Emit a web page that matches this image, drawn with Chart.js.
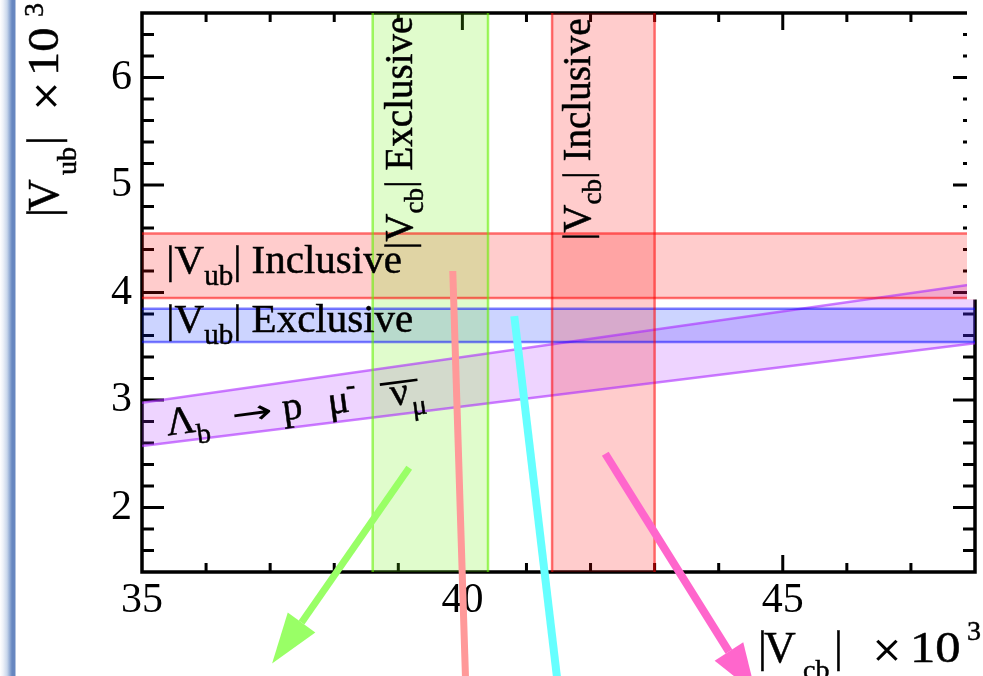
<!DOCTYPE html>
<html><head><meta charset="utf-8">
<script src="https://cdn.jsdelivr.net/npm/chart.js@4.4.1/dist/chart.umd.min.js"></script>
<style>
html,body{margin:0;padding:0;background:#fff;}
#wrap{position:relative;width:983px;height:676px;overflow:hidden;}
#stripe{position:absolute;left:0;top:0;width:16px;height:676px;background:linear-gradient(to right,#ffffff 0px,#eef2f9 3px,#c9d7ec 7px,#8ea8d3 10px,#6787c0 12px,#6787c0 15px,#ffffff 16px);}
canvas{position:absolute;left:0;top:0;}
</style></head>
<body><div id="wrap"><div id="stripe"></div><canvas id="c" width="983" height="676"></canvas></div>
<script>
// ---------- data ----------
const xRange = [35, 48];
const yRange = [1.4, 6.6];
const xTickLabels = ['35', '40', '45'];
const yTickLabels = ['2', '3', '4', '5', '6'];

const vcbExclusive = [38.6, 40.4];   // |Vcb| x10^3 band
const vcbInclusive = [41.4, 43.0];
const vubInclusive = [3.95, 4.55];   // |Vub| x10^3 band
const vubExclusive = [3.54, 3.85];
const lambdaRatio = [0.0735, 0.0850]; // |Vub|/|Vcb| band (lines through origin)

const arrowGreenX = [39.17, 37.49, 37.03];
const arrowGreenY = [2.37, 0.93, 0.55];
const lineSalmonX = [39.85, 40.06];
const lineSalmonY = [4.20, 0.20];
const lineCyanX = [40.81, 41.52];
const lineCyanY = [3.78, 0.20];
const arrowMagentaX = [42.23, 44.16, 44.58];
const arrowMagentaY = [2.50, 0.66, 0.27];

// ---------- helpers ----------
const pts = (xs, ys) => xs.map((x, i) => ({x: x, y: ys[i]}));
const vBand = r => pts([r[0], r[0], r[1], r[1]], [yRange[0], yRange[1], yRange[1], yRange[0]]);
const hBand = r => pts([xRange[0], xRange[1], xRange[1], xRange[0]], [r[0], r[0], r[1], r[1]]);
const kBand = k => pts([xRange[0], xRange[1], xRange[1], xRange[0]],
  [k[0] * xRange[0], k[0] * xRange[1], k[1] * xRange[1], k[1] * xRange[0]]);

const C = {
  red:   ['rgba(255,0,0,0.2)', 'rgba(255,0,0,0.55)'],
  green: ['rgba(100,240,0,0.2)', 'rgba(100,240,0,0.6)'],
  blue:  ['rgba(0,40,255,0.2)', 'rgba(0,0,255,0.5)'],
  purple:['rgba(170,40,255,0.2)', 'rgba(170,40,255,0.6)']
};

function fillDs(data, col) {
  return {data: data, fill: 'shape', backgroundColor: col, borderColor: 'transparent', borderWidth: 0, pointRadius: 0, order: 10};
}
function edgeDs(data, col) {
  return {data: data, fill: false, borderColor: col, borderWidth: 2.5, pointRadius: 0, order: 5};
}
function arrowDs(xs, ys, col, w, head) {
  const n = xs.length;
  return {
    data: pts(xs, ys), fill: false, borderColor: col, borderWidth: w, pointRadius: 0,
    clip: false, order: 1, arrowHead: head,
    segment: head ? {borderColor: c => (c.p1DataIndex === n - 1 ? 'transparent' : undefined)} : undefined
  };
}

const datasets = [
  arrowDs(arrowGreenX, arrowGreenY, '#99ff66', 7, true),
  arrowDs(lineSalmonX, lineSalmonY, '#ff9999', 7, false),
  arrowDs(lineCyanX, lineCyanY, '#66ffff', 8, false),
  arrowDs(arrowMagentaX, arrowMagentaY, '#ff66cc', 8, true),

  edgeDs(pts([vcbExclusive[0], vcbExclusive[0]], yRange), C.green[1]),
  edgeDs(pts([vcbExclusive[1], vcbExclusive[1]], yRange), C.green[1]),
  edgeDs(pts([vcbInclusive[0], vcbInclusive[0]], yRange), C.red[1]),
  edgeDs(pts([vcbInclusive[1], vcbInclusive[1]], yRange), C.red[1]),
  edgeDs(pts(xRange, [vubInclusive[0], vubInclusive[0]]), C.red[1]),
  edgeDs(pts(xRange, [vubInclusive[1], vubInclusive[1]]), C.red[1]),
  edgeDs(pts(xRange, [vubExclusive[0], vubExclusive[0]]), C.blue[1]),
  edgeDs(pts(xRange, [vubExclusive[1], vubExclusive[1]]), C.blue[1]),
  edgeDs(pts(xRange, xRange.map(x => lambdaRatio[0] * x)), C.purple[1]),
  edgeDs(pts(xRange, xRange.map(x => lambdaRatio[1] * x)), C.purple[1]),

  fillDs(vBand(vcbExclusive), C.green[0]),
  fillDs(vBand(vcbInclusive), C.red[0]),
  fillDs(hBand(vubInclusive), C.red[0]),
  fillDs(hBand(vubExclusive), C.blue[0]),
  fillDs(kBand(lambdaRatio), C.purple[0])
];

// ---------- text ----------
const FONT = '"Liberation Serif", "DejaVu Serif", serif';
const SYM = '"DejaVu Sans", sans-serif';
function drawRich(ctx, x, y, angle, size, parts) {
  ctx.save();
  ctx.translate(x, y);
  ctx.rotate(angle * Math.PI / 180);
  ctx.fillStyle = '#000';
  ctx.strokeStyle = '#000';
  ctx.lineWidth = 0.5;
  ctx.textBaseline = 'alphabetic';
  ctx.textAlign = 'left';
  let cx = 0;
  for (const p of parts) {
    const s = p.size || size;
    ctx.font = s + 'px ' + (p.font || FONT);
    if (p.at !== undefined) cx = p.at;
    const dy = p.dy || 0;
    const sx = p.sx || 1;
    ctx.save();
    ctx.translate(cx, dy);
    ctx.scale(sx, 1);
    ctx.fillText(p.t, 0, 0);
    if (!p.thin) ctx.strokeText(p.t, 0, 0);
    ctx.restore();
    const w = ctx.measureText(p.t).width * sx;
    if (p.bar) ctx.fillRect(cx + p.bar[0], dy - p.bar[2], p.bar[1], 2.6);
    cx += w;
  }
  ctx.restore();
}

const innerLabels = [
  {x: 35.38, y: 4.177, rot: 0, size: 41, parts: [{t: '|V'}, {t: 'ub', size: 29, dy: 12}, {t: '| Inclusive'}]},
  {x: 35.38, y: 3.628, rot: 0, size: 41, parts: [{t: '|V'}, {t: 'ub', size: 29, dy: 12}, {t: '| Exclusive'}]},
  {x: 39.21, y: 4.40, rot: -90, size: 39, parts: [{t: '|V'}, {t: 'cb', size: 27, dy: 11}, {t: '| Exclusive'}]},
  {x: 41.99, y: 4.484, rot: -90, size: 39, parts: [{t: '|V'}, {t: 'cb', size: 27, dy: 11}, {t: '| Inclusive'}]},
  {x: 35.40, y: 2.67, rot: -7.5, size: 40, parts: [
    {t: 'Λ', at: 0}, {t: 'b', size: 28, dy: 12, at: 29}, {t: '→', font: SYM, size: 34, sx: 1.45, thin: true, at: 66}, {t: 'p', at: 117},
    {t: 'μ', at: 163}, {t: '-', size: 28, dy: -17, at: 183},
    {t: 'ν', at: 226, bar: [-9, 38, 24]}, {t: 'μ', size: 28, dy: 12, at: 246}]}
];

const textPlugin = {
  id: 'texts',
  beforeDatasetsDraw(chart) {
    const {ctx, chartArea: a, scales: {x, y}} = chart;
    ctx.save();
    ctx.strokeStyle = '#000';
    ctx.lineWidth = 3.5;
    ctx.strokeRect(a.left, a.top, a.right - a.left, a.bottom - a.top);
    ctx.lineWidth = 3;
    ctx.beginPath();
    for (let v = Math.ceil(x.min); v <= x.max; v++) {
      const px = x.getPixelForValue(v);
      if (px <= a.left + 1 || px >= a.right - 1) continue;
      const L = xTickLabels.includes(String(v)) ? 17 : 9;
      ctx.moveTo(px, a.bottom); ctx.lineTo(px, a.bottom - L);
      ctx.moveTo(px, a.top); ctx.lineTo(px, a.top + L);
    }
    for (let i = 1; i < Math.round((y.max - y.min) / 0.2); i++) {
      const v = y.min + 0.2 * i;
      const py = y.getPixelForValue(v);
      const major = Math.abs(v - Math.round(v)) < 1e-6;
      const L = major ? 22 : 12;
      ctx.moveTo(a.left, py); ctx.lineTo(a.left + L, py);
      ctx.moveTo(a.right, py); ctx.lineTo(a.right - L, py);
    }
    ctx.stroke();
    ctx.restore();
  },
  afterDatasetsDraw(chart) {
    const {ctx, scales: {x, y}} = chart;
    for (const l of innerLabels) {
      drawRich(ctx, x.getPixelForValue(l.x), y.getPixelForValue(l.y), l.rot, l.size, l.parts);
    }
    // arrow heads
    chart.data.datasets.forEach((ds, i) => {
      if (!ds.arrowHead) return;
      const d = chart.getDatasetMeta(i).data;
      const b = d[d.length - 2], t = d[d.length - 1];
      const dx = t.x - b.x, dy = t.y - b.y, len = Math.hypot(dx, dy);
      const nx = -dy / len, ny = dx / len, hw = 17;
      ctx.save();
      ctx.fillStyle = ds.borderColor;
      ctx.beginPath();
      ctx.moveTo(t.x, t.y);
      ctx.lineTo(b.x + nx * hw, b.y + ny * hw);
      ctx.lineTo(b.x - nx * hw, b.y - ny * hw);
      ctx.closePath();
      ctx.fill();
      ctx.restore();
    });
    // axis titles
    drawRich(ctx, 58, 215, -90, 44, [
      {t: '|', at: -2}, {t: 'V', at: 4}, {t: 'ub', size: 28, dy: 18, at: 40}, {t: '|', at: 70},
      {t: '×', font: SYM, size: 38, thin: true, at: 103}, {t: '10', at: 139, sx: 1.1}, {t: '3', size: 28, dy: -15, at: 198}]);
    drawRich(ctx, 760, 662, 0, 44, [
      {t: '|', at: -2}, {t: 'V', at: 4}, {t: 'cb', size: 28, dy: 17, at: 43}, {t: '|', at: 74},
      {t: '×', font: SYM, size: 38, thin: true, at: 111}, {t: '10', at: 150, sx: 1.15}, {t: '3', size: 28, dy: -22, at: 207}]);
  },
  afterDraw(chart) {
    const {ctx, chartArea: a} = chart;
    ctx.save();
    ctx.fillStyle = '#fff';
    ctx.fillRect(a.right - 8, 0, 20, chart.scales.y.getPixelForValue(4.0) + 7);
    ctx.restore();
  }
};

new Chart(document.getElementById('c'), {
  type: 'line',
  data: {datasets: datasets},
  plugins: [textPlugin],
  options: {
    responsive: false,
    animation: false,
    events: [],
    elements: {line: {tension: 0, borderCapStyle: 'butt'}},
    layout: {padding: {left: 0, right: 8, top: 13, bottom: 0}},
    plugins: {legend: {display: false}, tooltip: {enabled: false}, title: {display: false}},
    scales: {
      x: {
        type: 'linear', position: 'bottom', min: xRange[0], max: xRange[1],
        grid: {display: false, drawTicks: false}, border: {display: false},
        afterFit: s => { s.height = 104; },
        afterBuildTicks: s => { s.ticks = xTickLabels.map(v => ({value: Number(v)})); },
        ticks: {padding: 4, color: '#000', font: {family: FONT, size: 42, lineHeight: 1.2},
                maxRotation: 0, autoSkip: false,
                callback: v => xTickLabels.find(t => Number(t) === v) || ''}
      },
      y: {
        type: 'linear', position: 'left', min: yRange[0], max: yRange[1],
        grid: {display: false, drawTicks: false}, border: {display: false},
        afterFit: s => { s.width = 142; },
        afterBuildTicks: s => { s.ticks = yTickLabels.map(v => ({value: Number(v)})); },
        ticks: {padding: 10, color: '#000', font: {family: FONT, size: 42, lineHeight: 0.1},
                autoSkip: false,
                callback: v => yTickLabels.find(t => Number(t) === v) || ''}
      }
    }
  }
});
</script>
</body></html>
